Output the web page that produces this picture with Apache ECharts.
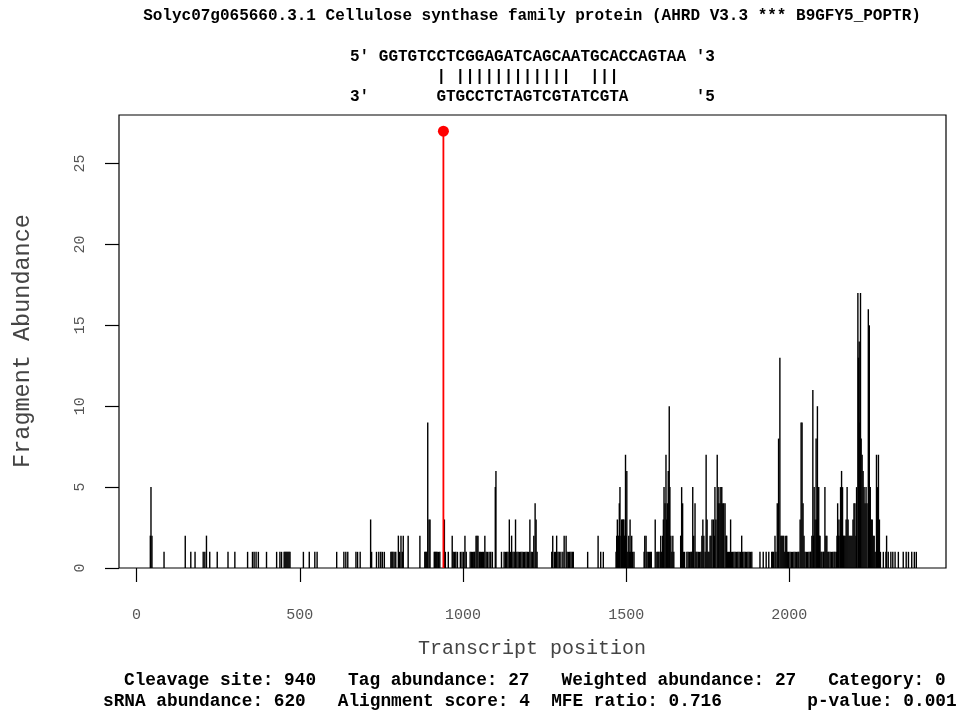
<!DOCTYPE html>
<html>
<head>
<meta charset="utf-8">
<title>Solyc07g065660.3.1 degradome T-plot</title>
<script src="https://cdn.jsdelivr.net/npm/echarts@6/dist/echarts.min.js"></script>
<style>
  html, body { margin: 0; padding: 0; background: #fff; }
  #chart { width: 966px; height: 713px; }
</style>
</head>
<body>
<div id="chart"></div>
<script>
// Degradome tag counts: [transcript position, fragment abundance]
const tags5prime = [
  [42,2],[44,5],[47,2],[84,1],[149,2],[166,1],[179,1],[204,1],[209,1],[214,2],
  [224,1],[247,1],[280,1],[301,1],[340,1],[355,1],[360,1],[366,1],[373,1],[398,1],
  [429,1],[439,1],[444,1],[452,1],[455,1],[458,1],[461,1],[464,1],[467,1],[470,1],
  [511,1],[529,1],[546,1],[553,1],[613,1],[635,1],[641,1],[647,1],[672,1],[677,1],
  [685,1],[717,3],[720,1],[735,1],[742,1],[748,1],[753,1],[759,1],[779,1],[782,1],
  [785,1],[789,1],[794,1],[802,2],[806,1],[810,2],[814,1],[817,2],[832,2],[868,2],
  [883,1],[886,1],[889,1],[892,9],[896,3],[899,3],[912,1],[915,1],[918,1],[921,1],
  [925,1],[929,1],[943,3],[946,1],[955,1],[967,2],[970,1],[974,1],[978,1],[983,1],
  [992,1],[997,1]
];
const tagsMiddle = [
  [1002,1],[1006,2],[1010,1],[1022,1],[1026,1],[1029,1],[1033,1],[1036,1],[1040,2],[1043,2],
  [1046,2],[1050,1],[1053,1],[1057,1],[1060,1],[1063,1],[1067,2],[1071,1],[1075,1],[1080,1],
  [1085,1],[1090,1],[1099,5],[1101,6],[1118,1],[1126,1],[1130,1],[1134,1],[1138,1],[1142,3],
  [1146,1],[1149,2],[1153,1],[1157,1],[1161,3],[1165,1],[1169,1],[1173,1],[1177,1],[1181,1],
  [1185,1],[1189,1],[1193,1],[1197,1],[1201,1],[1205,3],[1209,1],[1213,1],[1217,2],[1221,4],
  [1224,3],[1227,1],[1272,1],[1275,2],[1280,1],[1284,1],[1287,2],[1291,1],[1295,1],[1300,1],
  [1306,1],[1310,2],[1316,2],[1319,1],[1323,1],[1327,1],[1331,1],[1335,1],[1338,1],[1382,1],
  [1414,2],[1422,1],[1430,1]
];
const tags3prime = [
  [1469,1],[1471,2],[1473,3],[1476,2],[1479,4],[1481,5],[1484,2],[1486,3],[1489,3],[1491,3],
  [1493,3],[1495,2],[1498,7],[1500,2],[1502,6],[1505,1],[1508,2],[1510,1],[1512,3],[1514,1],
  [1517,2],[1520,1],[1524,1],[1555,1],[1557,2],[1561,2],[1564,1],[1568,1],[1571,1],[1574,1],
  [1577,1],[1589,3],[1594,1],[1597,1],[1600,1],[1604,1],[1606,2],[1609,1],[1612,2],[1614,3],
  [1616,5],[1619,4],[1622,7],[1624,3],[1626,4],[1629,6],[1632,10],[1634,5],[1637,2],[1640,1],
  [1643,2],[1646,1],[1667,2],[1670,5],[1673,4],[1676,1],[1679,1],[1686,1],[1690,1],[1694,1],
  [1698,1],[1701,1],[1704,5],[1707,2],[1711,4],[1714,1],[1717,1],[1721,1],[1725,1],[1729,1],
  [1732,2],[1735,3],[1738,2],[1742,1],[1745,7],[1748,3],[1751,1],[1754,1],[1757,2],[1760,2],
  [1763,3],[1767,3],[1770,2],[1772,5],[1775,3],[1779,7],[1782,4],[1784,5],[1787,4],[1790,5],
  [1793,5],[1796,4],[1799,4],[1803,4],[1806,2],[1808,2],[1811,1],[1814,1],[1817,1],[1820,3],
  [1823,1],[1826,1],[1830,1],[1834,1],[1838,1],[1842,1],[1846,1],[1850,1],[1854,2],[1857,1],
  [1861,1],[1865,1],[1869,1],[1873,1],[1877,1],[1881,1],[1885,1],[1910,1],[1920,1],[1929,1],
  [1937,1],[1946,1],[1949,1],[1952,1],[1956,2],[1959,1],[1963,4],[1967,8],[1971,13],[1974,2],
  [1977,2],[1980,2],[1983,2],[1986,1],[1989,2],[1992,2],[1995,1],[1998,1]
];
const tagsTail = [
  [2002,1],[2006,1],[2010,1],[2014,1],[2018,1],[2022,1],[2026,1],[2029,1],[2033,3],[2036,9],
  [2039,9],[2042,4],[2045,2],[2048,1],[2052,1],[2056,1],[2060,1],[2064,1],[2066,1],[2069,2],
  [2072,11],[2074,2],[2076,5],[2079,3],[2082,8],[2084,3],[2086,10],[2088,3],[2090,5],[2092,2],
  [2094,2],[2097,1],[2100,1],[2104,1],[2106,1],[2109,5],[2112,2],[2115,2],[2118,1],[2121,1],
  [2125,1],[2129,1],[2133,1],[2137,1],[2140,1],[2144,1],[2146,2],[2148,4],[2150,2],[2152,3],
  [2155,2],[2157,5],[2160,6],[2163,5],[2166,2],[2168,2],[2171,2],[2174,3],[2177,5],[2180,3],
  [2183,2],[2186,2],[2189,2],[2192,2],[2195,3],[2198,4],[2201,4],[2204,2],[2206,5],[2210,17],
  [2212,13],[2214,14],[2216,9],[2218,17],[2220,8],[2223,7],[2226,6],[2229,5],[2232,4],[2235,5],
  [2238,4],[2242,16],[2245,15],[2248,5],[2251,3],[2254,3],[2257,2],[2260,2],[2263,1],[2267,7],
  [2270,5],[2273,7],[2276,3],[2279,1],[2288,1],[2296,1],[2298,2],[2303,1],[2311,1],[2317,1],
  [2324,1],[2334,1],[2349,1],[2358,1],[2365,1],[2375,1],[2383,1],[2389,1]
];

// Cleavage site and its tag abundance
const cleavageSite = 940;
const tagAbundance = 27;

// Tick labels
const xTicks = [0, 500, 1000, 1500, 2000];
const yTicks = [0, 5, 10, 15, 20, 25];

// Header / footer texts
const titleText = 'Solyc07g065660.3.1 Cellulose synthase family protein (AHRD V3.3 *** B9GFY5_POPTR)';
const targetLine = "5' GGTGTCCTCGGAGATCAGCAATGCACCAGTAA '3";
const pairLine   = '         | ||||||||||||  |||';
const srnaLine   = "3'       GTGCCTCTAGTCGTATCGTA       '5";
const statsLine1 = 'Cleavage site: 940   Tag abundance: 27   Weighted abundance: 27   Category: 0';
const statsLine2 = 'sRNA abundance: 620   Alignment score: 4  MFE ratio: 0.716        p-value: 0.001';

const MONO = "'Liberation Mono', 'Courier New', 'DejaVu Sans Mono', monospace";

const allTags = tags5prime.concat(tagsMiddle, tags3prime, tagsTail);

function stickRenderer(color, width) {
  return function (params, api) {
    const x = api.value(0);
    const y = api.value(1);
    const p0 = api.coord([x, 0]);
    const p1 = api.coord([x, y]);
    return {
      type: 'line',
      shape: { x1: p0[0], y1: p0[1], x2: p1[0], y2: p1[1] },
      style: { stroke: color, lineWidth: width }
    };
  };
}

function textEl(text, x, y, size, weight, color, align) {
  return {
    type: 'text',
    x: x, y: y,
    style: {
      text: text,
      font: weight + ' ' + size + 'px ' + MONO,
      fill: color,
      textAlign: align,
      textVerticalAlign: 'middle'
    }
  };
}

const plainNumber = function (v) { return String(v); };

const chart = echarts.init(document.getElementById('chart'), null, { renderer: 'canvas' });

chart.setOption({
  animation: false,
  backgroundColor: '#ffffff',
  grid: {
    left: 119, right: 20, top: 115, bottom: 145,
    show: true, borderColor: '#000', borderWidth: 1.2, backgroundColor: 'transparent'
  },
  xAxis: {
    type: 'value',
    min: -54, max: 2480,
    splitLine: { show: false },
    axisLine: { show: false, onZero: false },
    axisTick: {
      show: true, length: 14, customValues: xTicks,
      lineStyle: { color: '#000', width: 1.2 }
    },
    axisLabel: {
      show: true, customValues: xTicks, margin: 40, formatter: plainNumber,
      fontFamily: MONO, fontSize: 15, color: '#555'
    }
  },
  yAxis: {
    type: 'value',
    min: 0, max: 28,
    splitLine: { show: false },
    axisLine: { show: false, onZero: false },
    axisTick: {
      show: true, length: 14, customValues: yTicks,
      lineStyle: { color: '#000', width: 1.2 }
    },
    axisLabel: {
      show: true, customValues: yTicks, rotate: 90, margin: 31, formatter: plainNumber,
      fontFamily: MONO, fontSize: 15, color: '#555'
    }
  },
  series: [
    {
      type: 'custom',
      name: 'tags',
      data: allTags,
      encode: { x: 0, y: 1 },
      renderItem: stickRenderer('#000', 1.4)
    },
    {
      type: 'custom',
      name: 'cleavage',
      data: [[cleavageSite, tagAbundance]],
      encode: { x: 0, y: 1 },
      renderItem: stickRenderer('#ff0000', 1.8),
      z: 3
    },
    {
      type: 'scatter',
      name: 'cleavage point',
      data: [[cleavageSite, tagAbundance]],
      symbol: 'circle',
      symbolSize: 11,
      itemStyle: { color: '#ff0000', opacity: 1 },
      z: 4
    }
  ],
  graphic: [
    textEl(titleText, 532, 16, 16, 'bold', '#000', 'center'),
    textEl(targetLine, 350, 57, 16, 'bold', '#000', 'left'),
    textEl(pairLine, 350, 77, 16, 'bold', '#000', 'left'),
    textEl(srnaLine, 350, 97, 16, 'bold', '#000', 'left'),
    textEl('Transcript position', 532, 649, 20, 'normal', '#444', 'center'),
    {
      type: 'text',
      x: 23, y: 341,
      rotation: Math.PI / 2,
      style: {
        text: 'Fragment Abundance',
        font: 'normal 23.5px ' + MONO,
        fill: '#444',
        textAlign: 'center',
        textVerticalAlign: 'middle'
      }
    },
    textEl(statsLine1, 124, 681, 17.8, 'bold', '#000', 'left'),
    textEl(statsLine2, 103, 702, 17.8, 'bold', '#000', 'left')
  ]
});
</script>
</body>
</html>
